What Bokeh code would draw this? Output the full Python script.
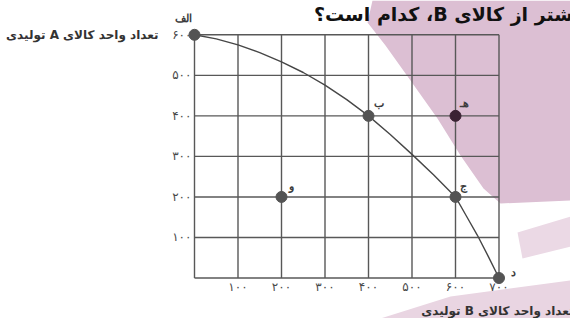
from bokeh.plotting import figure
from bokeh.models import FixedTicker, Label, LabelSet, PolyAnnotation, ColumnDataSource, Range1d
from bokeh.embed import file_html
from bokeh.resources import INLINE

# ---------------- data ----------------
frontier_b = [0, 50, 100, 150, 200, 250, 300, 350, 400, 450, 500, 550, 600, 625, 650, 675, 700]
frontier_a = [600, 590, 575, 556, 533, 507, 476, 440, 400, 354, 305, 254, 200, 153, 106, 54, 0]

point_b = [0, 400, 600, 600, 700, 200]
point_a = [600, 400, 400, 200, 0, 200]
point_names = ["الف", "ب", "هـ", "ج", "د", "و"]

x_ticks = [100, 200, 300, 400, 500, 600, 700]
x_tick_labels = ["۱۰۰", "۲۰۰", "۳۰۰", "۴۰۰", "۵۰۰", "۶۰۰", "۷۰۰"]
y_ticks = [100, 200, 300, 400, 500, 600]
y_tick_labels = ["۱۰۰", "۲۰۰", "۳۰۰", "۴۰۰", "۵۰۰", "۶۰۰"]

title_text = "بیشتر از کالای B، کدام است؟"
y_label_text = "تعداد واحد کالای A تولیدی"
x_label_text = "تعداد واحد کالای B تولیدی"

# ---------------- layout / style ----------------
W, H = 570, 318
X0_PX, X700_PX = 194, 498.5                 # canvas px where b=0 / b=700 fall
Y600_PX, Y0_PX = 34.3, 277.5                # canvas px where a=600 / a=0 fall
sx = (X700_PX - X0_PX) / 700.0
sy = (Y0_PX - Y600_PX) / 600.0
x_start = -X0_PX / sx
x_end = 700 + (W - X700_PX) / sx
y_end = 600 + Y600_PX / sy
y_start = -(H - Y0_PX) / sy

def px2x(cx):
    return x_start + cx / sx

def px2y(cy):
    return y_start + (H - cy) / sy

def rtl(s):
    return "\u202B" + s + "\u202C"

FONT = "DejaVu Sans"
GRID = "#585858"

p = figure(width=W, height=H, output_backend="svg", toolbar_location=None,
           x_range=Range1d(x_start, x_end), y_range=Range1d(y_start, y_end),
           min_border=0)
p.outline_line_color = None
p.background_fill_color = "white"
p.border_fill_color = "white"
p.grid.visible = False

# watermark shapes (canvas px)
wm_main = [(372, 0), (570, 0), (570, 200), (500, 203), (483, 188), (460, 155),
           (437, 118), (410, 80), (385, 45), (367, 22)]
wm_b2 = [(517, 232), (570, 216), (570, 246), (522, 258)]
wm_b3 = [(380, 318), (450, 296), (570, 280), (570, 318)]
for poly, col in [(wm_main, "#dcbfd3"), (wm_b2, "#ebd9e5"), (wm_b3, "#e9d5e2")]:
    p.add_layout(PolyAnnotation(xs=[px2x(x) for x, _ in poly],
                                ys=[px2y(y) for _, y in poly],
                                fill_color=col, fill_alpha=1.0, line_color=None,
                                level="image"))

# grid box 0..700 x 0..600
grid_b = [0] + x_ticks
grid_a = [0] + y_ticks
p.segment(x0=grid_b, y0=[grid_a[0]] * len(grid_b), x1=grid_b, y1=[grid_a[-1]] * len(grid_b),
          line_color=GRID, line_width=1.4)
p.segment(x0=[grid_b[0]] * len(grid_a), y0=grid_a, x1=[grid_b[-1]] * len(grid_a), y1=grid_a,
          line_color=GRID, line_width=1.4)

# axes, pinned to the data origin
p.xaxis.fixed_location = 0
p.yaxis.fixed_location = 0
p.xaxis.ticker = FixedTicker(ticks=x_ticks)
p.yaxis.ticker = FixedTicker(ticks=y_ticks)
p.xaxis.major_label_overrides = dict(zip(x_ticks, x_tick_labels))
p.yaxis.major_label_overrides = dict(zip(y_ticks, y_tick_labels))
for ax in (p.xaxis, p.yaxis):
    ax.axis_line_color = None
    ax.major_tick_line_color = None
    ax.minor_tick_line_color = None
    ax.major_tick_out = 0
    ax.major_tick_in = 0
    ax.major_label_text_font = FONT
    ax.major_label_text_font_size = "12px"
    ax.major_label_text_color = "#4a4a4a"
p.xaxis.major_label_standoff = 2
p.yaxis.major_label_standoff = 3

# frontier curve and points
p.line(frontier_b, frontier_a, line_color="#474747", line_width=1.4)
point_colors = ["#545454", "#545454", "#3a2233", "#545454", "#545454", "#545454"]
p.scatter(point_b, point_a, size=11, fill_color=point_colors, line_color=point_colors)

lab_dx = [-11, 10, 9, 8, 14, 10]
lab_dy = [17, 13, 13, 11, 6, 11]
src = ColumnDataSource(dict(b=point_b, a=point_a, name=point_names, dx=lab_dx, dy=lab_dy))
p.add_layout(LabelSet(x="b", y="a", text="name", source=src, x_offset="dx", y_offset="dy",
                      text_align="center", text_baseline="middle",
                      text_font=FONT, text_font_size="11px", text_font_style="bold",
                      text_color="#3c3c3c"))

# texts
p.add_layout(Label(x=px2x(158), y=px2y(34), text=rtl(y_label_text), text_align="right",
                   text_baseline="middle", text_font=FONT, text_font_size="12px",
                   text_font_style="bold", text_color="#333333"))
p.add_layout(Label(x=px2x(573), y=px2y(310), text=rtl(x_label_text), text_align="right",
                   text_baseline="middle", text_font=FONT, text_font_size="12px",
                   text_font_style="bold", text_color="#333333"))
p.add_layout(Label(x=px2x(588), y=px2y(13), text=rtl(title_text), text_align="right",
                   text_baseline="alphabetic", text_font=FONT, text_font_size="19px",
                   text_font_style="bold", text_color="#111111"))

open("out.html", "w").write(file_html(p, INLINE))
